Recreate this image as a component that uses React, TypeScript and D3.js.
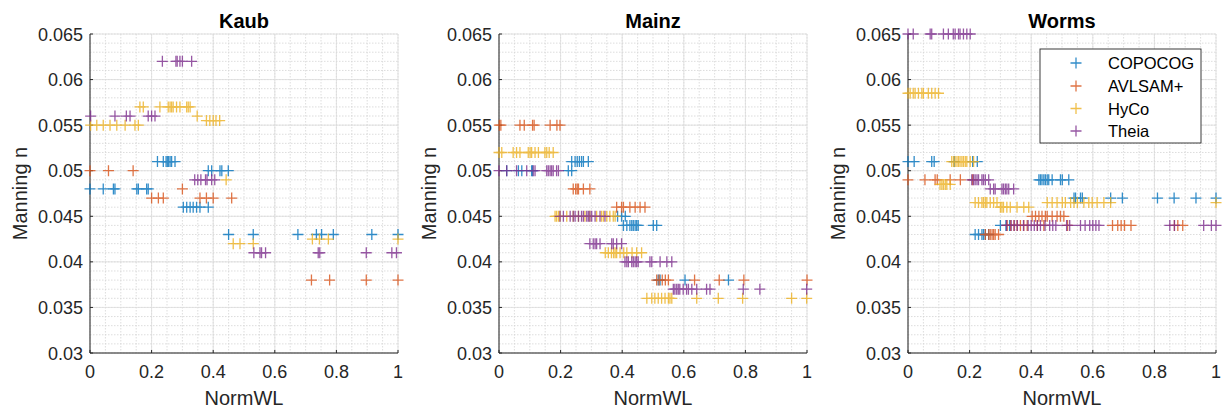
import React from "react";
import * as d3 from "d3";

type Row = { n: number; wl: number[] };

const seriesNames = ["COPOCOG", "AVLSAM+", "HyCo", "Theia"];
const seriesColors = ["#0072BD", "#D95319", "#EDB120", "#7E2F8E"];
const stations = ["Kaub", "Mainz", "Worms"];
const xTicks = [0, 0.2, 0.4, 0.6, 0.8, 1];
const yTicks = [0.03, 0.035, 0.04, 0.045, 0.05, 0.055, 0.06, 0.065];

// ---- Kaub ----
const kaubCopocog: Row[] = [
  { n: 0.048, wl: [0.0, 0.043, 0.076, 0.081, 0.152, 0.157, 0.184, 0.189] },
  { n: 0.051, wl: [0.219, 0.238, 0.247, 0.251, 0.255, 0.26, 0.265, 0.276] },
  { n: 0.05, wl: [0.384, 0.395, 0.422, 0.428, 0.449] },
  { n: 0.046, wl: [0.303, 0.314, 0.325, 0.335, 0.346, 0.357, 0.384] },
  { n: 0.043, wl: [0.45, 0.53, 0.675, 0.735, 0.752, 0.79, 0.915, 1.0] },
];
const kaubAvlsam: Row[] = [
  { n: 0.05, wl: [0.0, 0.06, 0.14] },
  { n: 0.048, wl: [0.3] },
  { n: 0.047, wl: [0.2, 0.222, 0.238, 0.357, 0.378, 0.4, 0.46] },
  { n: 0.038, wl: [0.719, 0.778, 0.897, 1.0] },
];
const kaubHyco: Row[] = [
  { n: 0.055, wl: [0.002, 0.022, 0.043, 0.065, 0.087, 0.114, 0.146, 0.157] },
  { n: 0.057, wl: [0.162, 0.173, 0.227, 0.254, 0.26, 0.265, 0.27, 0.281, 0.292, 0.314, 0.319, 0.325] },
  { n: 0.056, wl: [0.348] },
  { n: 0.0555, wl: [0.378, 0.389, 0.4, 0.409, 0.421] },
  { n: 0.049, wl: [0.442] },
  { n: 0.0425, wl: [0.722, 0.745, 0.774, 1.0] },
  { n: 0.042, wl: [0.465, 0.487, 0.53] },
];
const kaubTheia: Row[] = [
  { n: 0.062, wl: [0.235, 0.279, 0.283, 0.292, 0.3, 0.33] },
  { n: 0.056, wl: [0.002, 0.081, 0.118, 0.13, 0.189, 0.2, 0.211] },
  { n: 0.049, wl: [0.34, 0.35, 0.36, 0.375, 0.38, 0.395, 0.405] },
  { n: 0.041, wl: [0.532, 0.552, 0.557, 0.57, 0.741, 0.746, 0.897, 0.98, 0.995] },
];

// ---- Mainz ----
const mainzCopocog: Row[] = [
  { n: 0.051, wl: [0.236, 0.247, 0.254, 0.261, 0.268, 0.274, 0.29] },
  { n: 0.05, wl: [0.025, 0.063, 0.074, 0.106, 0.109, 0.225, 0.236] },
  { n: 0.045, wl: [0.385, 0.398, 0.41] },
  { n: 0.044, wl: [0.404, 0.415, 0.425, 0.431, 0.436, 0.442, 0.447, 0.452, 0.501, 0.512] },
  { n: 0.038, wl: [0.517, 0.523, 0.604, 0.745] },
];
const mainzAvlsam: Row[] = [
  { n: 0.055, wl: [0.001, 0.006, 0.068, 0.082, 0.109, 0.114, 0.166, 0.188, 0.198] },
  { n: 0.048, wl: [0.241, 0.249, 0.254, 0.258, 0.274, 0.295] },
  { n: 0.046, wl: [0.382, 0.398, 0.404, 0.425, 0.442, 0.458, 0.474] },
  { n: 0.038, wl: [0.512, 0.52, 0.53, 0.54, 0.55, 0.635, 0.715, 0.795, 1.0] },
];
const mainzHyco: Row[] = [
  { n: 0.052, wl: [0.0, 0.009, 0.046, 0.057, 0.068, 0.095, 0.101, 0.106, 0.117, 0.128, 0.149, 0.155, 0.163, 0.176] },
  { n: 0.045, wl: [0.182, 0.187, 0.193, 0.198, 0.22, 0.241, 0.258, 0.279, 0.295, 0.317, 0.333, 0.339, 0.35, 0.36, 0.371, 0.377] },
  { n: 0.041, wl: [0.345, 0.355, 0.365, 0.372, 0.377, 0.382, 0.393, 0.405, 0.415, 0.432, 0.447, 0.463] },
  { n: 0.036, wl: [0.48, 0.496, 0.506, 0.517, 0.528, 0.539, 0.55, 0.555, 0.561, 0.642, 0.712, 0.791, 0.95, 0.999] },
];
const mainzTheia: Row[] = [
  { n: 0.05, wl: [0.0, 0.025, 0.057, 0.09, 0.111, 0.117, 0.155, 0.16, 0.166, 0.171, 0.176, 0.187, 0.193] },
  { n: 0.045, wl: [0.198, 0.209, 0.231, 0.241, 0.247, 0.258, 0.268, 0.274, 0.285, 0.29, 0.295, 0.301, 0.312, 0.328, 0.344] },
  { n: 0.042, wl: [0.295, 0.306, 0.312, 0.317, 0.328, 0.366, 0.371, 0.382, 0.398] },
  { n: 0.04, wl: [0.409, 0.415, 0.42, 0.431, 0.436, 0.442, 0.447, 0.452, 0.49, 0.496, 0.523, 0.545, 0.561] },
  { n: 0.037, wl: [0.566, 0.571, 0.577, 0.582, 0.587, 0.598, 0.609, 0.615, 0.626, 0.642, 0.674, 0.685, 0.793, 0.847, 0.999] },
];

// ---- Worms ----
const wormsCopocog: Row[] = [
  { n: 0.051, wl: [0.0, 0.02, 0.077, 0.085, 0.15, 0.21, 0.225] },
  { n: 0.049, wl: [0.425, 0.43, 0.435, 0.441, 0.446, 0.452, 0.457, 0.468, 0.495, 0.501, 0.522] },
  { n: 0.047, wl: [0.539, 0.544, 0.56, 0.566, 0.658, 0.696, 0.81, 0.864, 0.935, 1.0] },
  { n: 0.044, wl: [0.3, 0.318, 0.33] },
  { n: 0.043, wl: [0.218, 0.229, 0.24, 0.245, 0.251, 0.262] },
];
const wormsAvlsam: Row[] = [
  { n: 0.049, wl: [0.0, 0.055, 0.088, 0.095, 0.137, 0.17, 0.21] },
  { n: 0.045, wl: [0.403, 0.414, 0.425, 0.435, 0.446, 0.452, 0.468, 0.484, 0.495, 0.506] },
  { n: 0.044, wl: [0.322, 0.333, 0.344, 0.354, 0.365, 0.376, 0.387, 0.42, 0.441, 0.518, 0.664, 0.681, 0.692, 0.703, 0.724, 0.865, 0.876, 0.892] },
  { n: 0.043, wl: [0.251, 0.262, 0.267, 0.273, 0.278, 0.283, 0.294] },
];
const wormsHyco: Row[] = [
  { n: 0.0585, wl: [0.0, 0.007, 0.017, 0.023, 0.034, 0.045, 0.05, 0.066, 0.077, 0.088, 0.099] },
  { n: 0.051, wl: [0.142, 0.148, 0.153, 0.159, 0.164, 0.169, 0.175, 0.18, 0.186, 0.191, 0.202, 0.213] },
  { n: 0.0485, wl: [0.104, 0.11, 0.115, 0.121, 0.126, 0.137] },
  { n: 0.0465, wl: [0.218, 0.229, 0.24, 0.245, 0.251, 0.256, 0.267, 0.278, 0.289, 0.452, 0.468, 0.484, 0.501, 0.511, 0.528, 0.539, 0.55, 0.571, 0.587, 0.598, 0.614, 0.636, 0.658, 1.0] },
  { n: 0.046, wl: [0.3, 0.305, 0.31, 0.321, 0.332, 0.354, 0.376, 0.392] },
];
const wormsTheia: Row[] = [
  { n: 0.065, wl: [0.0, 0.017, 0.072, 0.077, 0.115, 0.131, 0.147, 0.153, 0.164, 0.169, 0.18, 0.191, 0.202] },
  { n: 0.049, wl: [0.207, 0.213, 0.218, 0.224, 0.229, 0.24, 0.245, 0.251, 0.262] },
  { n: 0.048, wl: [0.267, 0.278, 0.283, 0.305, 0.31, 0.316, 0.321, 0.327, 0.343] },
  { n: 0.044, wl: [0.32, 0.335, 0.345, 0.355, 0.375, 0.39, 0.4, 0.41, 0.42, 0.43, 0.445, 0.46, 0.47, 0.48, 0.515, 0.525, 0.56, 0.575, 0.59, 0.6, 0.61, 0.62, 0.85, 0.865, 0.96, 0.985, 1.0] },
];

const stationData: Row[][][] = [
  [kaubCopocog, kaubAvlsam, kaubHyco, kaubTheia],
  [mainzCopocog, mainzAvlsam, mainzHyco, mainzTheia],
  [wormsCopocog, wormsAvlsam, wormsHyco, wormsTheia],
];

const W = 1222;
const H = 412;
const panelLeft = [90, 499, 908];
const panelW = 308;
const top = 34;
const bottom = 353;
const FONT = "'Liberation Sans', Arial, Helvetica, sans-serif";
const AX = "#262626";

function Panel({ idx }: { idx: number }) {
  const x0 = panelLeft[idx];
  const x = d3.scaleLinear().domain([0, 1]).range([x0, x0 + panelW]);
  const y = d3.scaleLinear().domain([0.03, 0.065]).range([bottom, top]);
  const xMinor = d3.range(0, 1.0001, 0.05);
  const yMinor = d3.range(0.03, 0.06501, 0.001);
  const arm = 5.5;
  return (
    <g>
      {xMinor.map((v, i) => (
        <line key={"xm" + i} x1={x(v)} x2={x(v)} y1={top} y2={bottom} stroke="#d4d4d4" strokeWidth={0.8} strokeDasharray="1.5,1.5" />
      ))}
      {yMinor.map((v, i) => (
        <line key={"ym" + i} x1={x0} x2={x0 + panelW} y1={y(v)} y2={y(v)} stroke="#d4d4d4" strokeWidth={0.8} strokeDasharray="1.5,1.5" />
      ))}
      {xTicks.map((v, i) => (
        <line key={"xg" + i} x1={x(v)} x2={x(v)} y1={top} y2={bottom} stroke="#dcdcdc" strokeWidth={0.8} />
      ))}
      {yTicks.map((v, i) => (
        <line key={"yg" + i} x1={x0} x2={x0 + panelW} y1={y(v)} y2={y(v)} stroke="#dcdcdc" strokeWidth={0.8} />
      ))}
      <line x1={x0} x2={x0} y1={top} y2={bottom} stroke={AX} strokeWidth={1} />
      <line x1={x0} x2={x0 + panelW} y1={bottom} y2={bottom} stroke={AX} strokeWidth={1} />
      {xTicks.map((v, i) => (
        <g key={"xt" + i}>
          <line x1={x(v)} x2={x(v)} y1={bottom} y2={bottom - 3} stroke={AX} />
          <text x={x(v)} y={bottom + 25} textAnchor="middle" fontFamily={FONT} fontSize={18} fill={AX}>
            {d3.format("~g")(v)}
          </text>
        </g>
      ))}
      {yTicks.map((v, i) => (
        <g key={"yt" + i}>
          <line x1={x0} x2={x0 + 3} y1={y(v)} y2={y(v)} stroke={AX} />
          <text x={x0 - 7} y={y(v) + 6.5} textAnchor="end" fontFamily={FONT} fontSize={18} fill={AX}>
            {d3.format("~g")(+v.toFixed(3))}
          </text>
        </g>
      ))}
      {stationData[idx].map((rows, si) => (
        <g key={"s" + si} stroke={seriesColors[si]} strokeWidth={1.3} opacity={0.8}>
          {rows.flatMap((r, ri) =>
            r.wl.map((v, k) => {
              const cx = x(v);
              const cy = y(r.n);
              return (
                <path key={ri + "-" + k} d={`M${cx - arm},${cy}H${cx + arm}M${cx},${cy - arm}V${cy + arm}`} fill="none" />
              );
            })
          )}
        </g>
      ))}
      <text x={x0 + panelW / 2} y={28} textAnchor="middle" fontFamily={FONT} fontSize={20} fontWeight="bold" fill="#000">
        {stations[idx]}
      </text>
      <text x={x0 + panelW / 2} y={405} textAnchor="middle" fontFamily={FONT} fontSize={20} fill={AX}>
        NormWL
      </text>
      <text
        transform={`translate(${x0 - 63},${(top + bottom) / 2}) rotate(-90)`}
        textAnchor="middle"
        fontFamily={FONT}
        fontSize={20}
        fill={AX}
      >
        Manning n
      </text>
    </g>
  );
}

function Legend() {
  const lx = 1040;
  const ly = 49;
  const rows = [63, 86, 108.5, 131];
  const arm = 5.5;
  return (
    <g>
      <rect x={lx} y={ly} width={161} height={94} fill="#fff" stroke={AX} strokeWidth={0.9} />
      {seriesNames.map((s, i) => (
        <g key={s}>
          <path
            d={`M${1076 - arm},${rows[i]}H${1076 + arm}M1076,${rows[i] - arm}V${rows[i] + arm}`}
            stroke={seriesColors[i]}
            strokeWidth={1.3}
            opacity={0.8}
          />
          <text x={1108} y={rows[i] + 6} fontFamily={FONT} fontSize={16.5} fill="#000">
            {s}
          </text>
        </g>
      ))}
    </g>
  );
}

export default function App() {
  return (
    <svg width={W} height={H} style={{ position: "absolute", left: 0, top: 0, background: "#fff" }}>
      <rect width={W} height={H} fill="#fff" />
      {[0, 1, 2].map((i) => (
        <Panel key={i} idx={i} />
      ))}
      <Legend />
    </svg>
  );
}
